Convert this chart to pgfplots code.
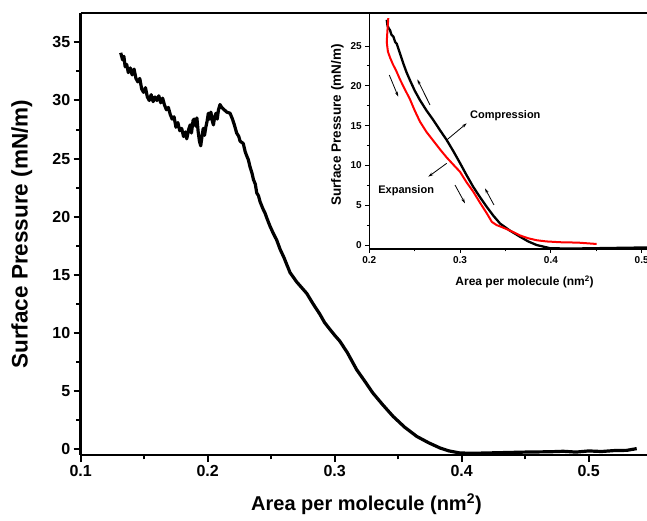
\documentclass[border=0pt]{standalone}
\usepackage{fontspec}
\setmainfont{Liberation Sans}
\usepackage{pgfplots}
\pgfplotsset{compat=1.18}
\usetikzlibrary{arrows.meta}

\begin{document}
\begin{tikzpicture}
\begin{axis}[
  name=main,
  at={(0pt,0pt)}, anchor=south west,
  scale only axis,
  width=571.5pt, height=441.7pt,
  xmin=0.1, xmax=0.55, ymin=-0.5, ymax=37.5,
  axis y line*=left,
  axis line style={line width=2.4pt, -},
  xtick={0.1,0.2,0.3,0.4,0.5},
  ytick={0,5,...,35},
  minor x tick num=1, minor y tick num=1,
  xtick pos=left, ytick pos=left,
  tick align=outside,
  major tick length=7pt, minor tick length=4.5pt,
  tick style={line width=2pt, black},
  /pgf/number format/assume math mode=true,
  x tick label style={/pgf/number format/fixed, /pgf/number format/fixed zerofill, /pgf/number format/precision=1},
  tick label style={font=\bfseries\fontsize{16}{16}\selectfont},
  xlabel={Area per molecule (nm\textsuperscript{2})},
  ylabel={Surface Pressure (mN/m)},
  xlabel style={font=\bfseries\fontsize{20}{20}\selectfont, at={(axis description cs:0.5,-0.111)}, anchor=center},
  ylabel style={font=\bfseries\fontsize{22.5}{22.5}\selectfont, at={(axis description cs:-0.103,0.5)}, anchor=center},
]
\addplot[black, line width=3.2pt, line join=round] table {
0.1315 34.1
0.1330 33.5
0.1340 33.8
0.1350 32.9
0.1362 33.1
0.1375 32.4
0.1390 32.8
0.1405 32.2
0.1420 32.7
0.1435 31.9
0.1450 31.6
0.1465 31.9
0.1480 31.0
0.1495 30.7
0.1510 31.1
0.1525 30.3
0.1540 30.0
0.1555 30.5
0.1570 29.9
0.1585 30.3
0.1600 30.0
0.1615 30.4
0.1630 29.8
0.1645 30.2
0.1660 29.6
0.1675 29.2
0.1690 29.4
0.1705 28.8
0.1720 28.4
0.1735 28.6
0.1750 27.7
0.1765 28.1
0.1780 27.4
0.1795 27.6
0.1810 26.9
0.1825 27.3
0.1835 26.7
0.1850 27.5
0.1862 27.9
0.1872 27.2
0.1885 28.3
0.1895 28.4
0.1905 27.8
0.1915 28.5
0.1925 27.3
0.1935 26.5
0.1945 26.1
0.1955 26.9
0.1965 27.6
0.1975 27.0
0.1985 27.7
0.1995 28.2
0.2005 28.9
0.2015 28.4
0.2025 29.0
0.2035 28.3
0.2045 27.9
0.2055 28.6
0.2065 28.9
0.2075 28.4
0.2085 29.2
0.2097 29.65
0.2110 29.4
0.2130 29.2
0.2150 29.0
0.2176 28.9
0.2195 28.4
0.2210 27.9
0.2228 27.2
0.2245 26.9
0.2255 26.5
0.2280 26.3
0.2295 25.6
0.2305 25.3
0.2320 24.9
0.2333 24.3
0.2350 23.7
0.2360 23.2
0.2375 22.8
0.2386 22.05
0.2400 21.8
0.2412 21.3
0.2438 20.6
0.2452 20.3
0.2465 19.9
0.2490 19.2
0.2515 18.6
0.2543 18.0
0.2570 17.2
0.2600 16.5
0.2648 15.2
0.2700 14.4
0.2740 13.9
0.2780 13.4
0.2830 12.5
0.2884 11.6
0.2920 10.9
0.2963 10.3
0.3000 9.8
0.3040 9.3
0.3100 8.3
0.3173 6.84
0.3240 5.8
0.3300 4.84
0.3380 3.8
0.3460 2.82
0.3550 1.9
0.3646 1.10
0.3740 0.55
0.3830 0.10
0.3900 -0.15
0.3987 -0.33
0.4100 -0.35
0.4300 -0.30
0.4500 -0.25
0.4700 -0.22
0.4800 -0.18
0.4900 -0.25
0.5000 -0.15
0.5100 -0.20
0.5200 -0.12
0.5300 -0.10
0.5378 0.05
};
\end{axis}

\begin{axis}[
  at={(288.6pt,206pt)}, anchor=south west,
  scale only axis,
  width=308.7pt, height=234.8pt,
  xmin=0.2, xmax=0.54, ymin=-0.5, ymax=29,
  axis x line*=bottom, axis y line*=left,
  axis line style={line width=1.2pt, -},
  xtick={0.2,0.3,0.4,0.5},
  ytick={0,5,...,25},
  minor x tick num=1, minor y tick num=1,
  xtick pos=left, ytick pos=left,
  tick align=outside,
  major tick length=4pt, minor tick length=2.5pt,
  tick style={line width=1pt, black},
  /pgf/number format/assume math mode=true,
  x tick label style={/pgf/number format/fixed, /pgf/number format/fixed zerofill, /pgf/number format/precision=1},
  tick label style={font=\bfseries\fontsize{10}{10}\selectfont},
  xlabel={Area per molecule (nm\textsuperscript{2})},
  ylabel={Surface Pressure (mN/m)},
  xlabel style={font=\bfseries\fontsize{12}{12}\selectfont, at={(axis description cs:0.503,-0.139)}, anchor=center},
  ylabel style={font=\bfseries\fontsize{13.5}{13.5}\selectfont, at={(axis description cs:-0.103,0.528)}, anchor=center},
]
\addplot[black, line width=2.3pt, line join=round] table {
0.2192 28.3
0.2200 27.6
0.2215 27.2
0.2228 27.0
0.2245 26.4
0.2265 26.2
0.2285 25.5
0.2302 25.3
0.2340 24.0
0.2375 22.8
0.2410 21.7
0.2448 20.7
0.2500 19.4
0.2558 18.2
0.2630 16.9
0.2705 15.7
0.2780 14.4
0.2852 13.2
0.2925 11.8
0.2999 10.3
0.3070 8.8
0.3145 7.3
0.3220 6.0
0.3293 4.8
0.3365 3.7
0.3440 2.7
0.3550 1.8
0.3660 1.04
0.3750 0.45
0.3843 0.0
0.3990 -0.4
0.4200 -0.45
0.4500 -0.4
0.4800 -0.35
0.5100 -0.3
};
\addplot[red, line width=2pt, line join=round] table {
0.2209 28.5
0.2200 27.0
0.2192 25.5
0.2205 24.3
0.2230 23.5
0.2260 22.7
0.2300 21.8
0.2338 20.8
0.2390 19.6
0.2448 18.3
0.2500 16.9
0.2558 15.5
0.2630 14.2
0.2705 13.1
0.2780 12.0
0.2852 11.0
0.2925 10.1
0.2999 9.2
0.3070 7.9
0.3145 6.7
0.3220 5.3
0.3293 4.0
0.3350 2.9
0.3403 2.5
0.3460 2.25
0.3513 2.0
0.3590 1.6
0.3660 1.2
0.3750 0.85
0.3843 0.6
0.3950 0.45
0.4100 0.35
0.4300 0.3
0.4504 0.13
};
\draw[line width=0.8pt, -{Stealth[length=5pt,width=3pt]}] (axis cs:0.222,21.36) -- (axis cs:0.2319,18.63);
\draw[line width=0.8pt, -{Stealth[length=5pt,width=3pt]}] (axis cs:0.2669,17.59) -- (axis cs:0.2529,20.8);
\draw[line width=0.8pt, -{Stealth[length=5pt,width=3pt]}] (axis cs:0.2944,7.54) -- (axis cs:0.3054,5.24);
\draw[line width=0.8pt, -{Stealth[length=5pt,width=3pt]}] (axis cs:0.3373,5.03) -- (axis cs:0.3274,7.12);
\draw[line width=0.8pt, -{Stealth[length=5pt,width=3pt]}] (axis cs:0.2852,13.19) -- (axis cs:0.3073,15.29);
\draw[line width=0.8pt, -{Stealth[length=5pt,width=3pt]}] (axis cs:0.2852,10.26) -- (axis cs:0.265,8.58);
\node[font=\bfseries\fontsize{11}{11}\selectfont] at (axis cs:0.3498,16.24) {Compression};
\node[font=\bfseries\fontsize{11}{11}\selectfont] at (axis cs:0.2406,6.78) {Expansion};
\end{axis}

\pgfresetboundingbox
\path[use as bounding box] (-80.7pt,-66pt) rectangle (566.3pt,455pt);
\end{tikzpicture}
\end{document}
